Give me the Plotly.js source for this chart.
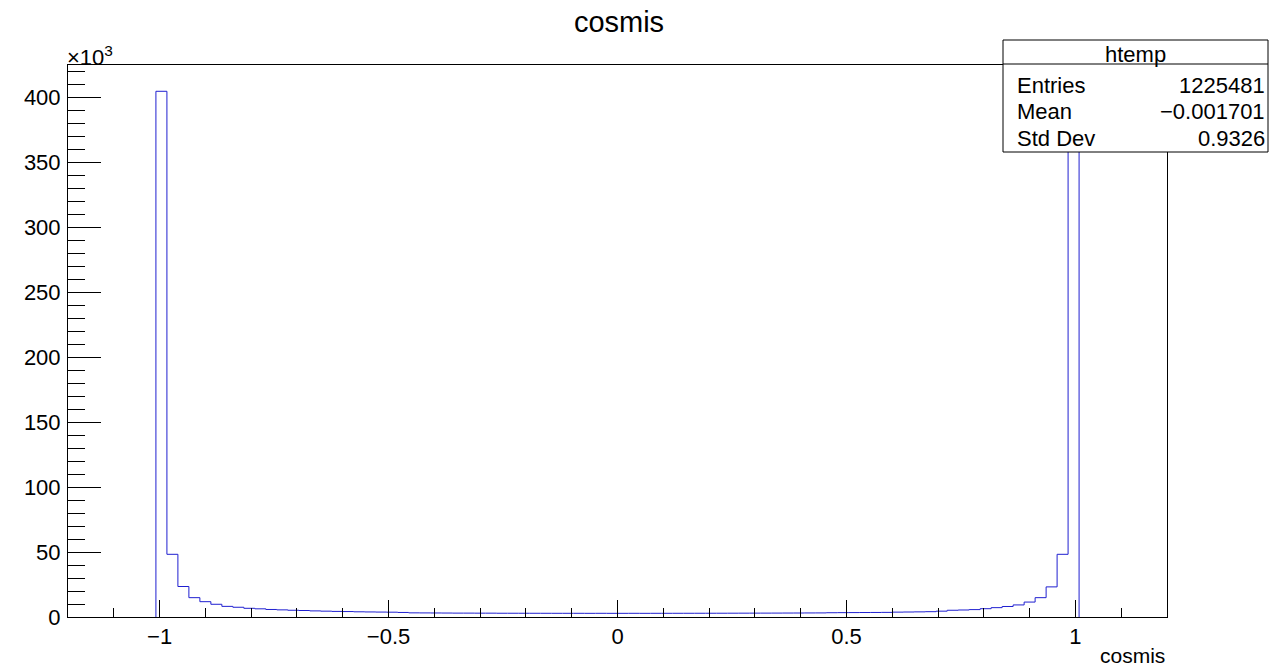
<!DOCTYPE html>
<html>
<head>
<meta charset="utf-8">
<script src="https://cdn.plot.ly/plotly-3.0.1.min.js"></script>
<style>
  html, body { margin: 0; padding: 0; background: #ffffff; }
  #chart { width: 1270px; height: 666px; }
</style>
</head>
<body>
<div id="chart"></div>
<script>
// Histogram definition (ROOT htemp): 100 bins from -1.2 to 1.2
const binLow = -1.2;
const binHigh = 1.2;
const nBins = 100;

// Bin contents, in thousands of entries
const countsK = [
  0, 0, 0, 0, 0, 0, 0, 0,
  405, 48.3, 23.5, 14.9, 11.8, 9.8, 8.2, 7.5, 6.7, 6.3,
  5.8, 5.5, 5.2, 5.0, 4.7, 4.5, 4.3, 4.2, 4.0, 3.9,
  3.8, 3.7, 3.5, 3.2, 3.15, 3.1, 3.05, 3.0, 3.0, 2.95,
  2.95, 2.9, 2.9, 2.88, 2.87, 2.86, 2.85, 2.84, 2.85, 2.83,
  2.84, 2.82, 2.83, 2.84, 2.82, 2.85, 2.84, 2.86, 2.87, 2.88,
  2.9, 2.91, 2.93, 2.95, 2.97, 3.0, 3.02, 3.05, 3.08, 3.12,
  3.15, 3.3, 3.35, 3.4, 3.45, 3.5, 3.55, 3.75, 3.85, 3.95,
  4.1, 4.5, 5.2, 5.4, 5.7, 6.4, 7.2, 8.1, 9.3, 11.5,
  14.9, 23.2, 48.3, 401,
  0, 0, 0, 0, 0, 0, 0, 0
];

// Statistics box
const statsTitle = "htemp";
const statsLabels = ["Entries", "Mean", "Std Dev"];
const statsValues = ["1225481", "\u22120.001701", "0.9326"];

const chartTitle = "cosmis";
const xAxisTitle = "cosmis";

// Build step outline from bin edges (empty outer bins lie on the axis)
const binWidth = (binHigh - binLow) / nBins;
let first = 0, last = nBins - 1;
while (first < nBins && countsK[first] === 0) first++;
while (last > 0 && countsK[last] === 0) last--;
const stepX = [];
const stepY = [];
stepX.push(binLow + first * binWidth); stepY.push(0);
for (let i = first; i <= last; i++) {
  stepX.push(binLow + i * binWidth);
  stepY.push(countsK[i]);
}
stepX.push(binLow + (last + 1) * binWidth); stepY.push(0);

const font = "Liberation Sans, Arial, Helvetica, sans-serif";

const trace = {
  type: "scatter",
  mode: "lines",
  x: stepX,
  y: stepY,
  line: { shape: "hv", color: "#1f1fd0", width: 1 },
  hoverinfo: "skip",
  showlegend: false
};

const maxK = Math.max(...countsK) * 1.05;

// pixel helpers for stats box (plot area: l=68, width 1099; t=65, height 552)
const L = 68, W = 1099, T = 65, H = 552;
const px = v => (v - L) / W;
const py = v => (T + H - v) / H;

const boxLeft = 1003, boxRight = 1268, boxTop = 40, boxBottom = 152, headSep = 64;
const rowsY = [85, 111, 138];

const annotations = [
  { text: "\u00d710<sup>3</sup>", xref: "paper", yref: "paper", x: px(65), y: py(56),
    xanchor: "left", yanchor: "middle", showarrow: false, font: { family: font, size: 22, color: "#000" } },
  { text: xAxisTitle, xref: "paper", yref: "paper", x: 1, y: py(655),
    xanchor: "right", yanchor: "middle", showarrow: false, font: { family: font, size: 21, color: "#000" } },
  { text: statsTitle, xref: "paper", yref: "paper", x: px((boxLeft + boxRight) / 2), y: py(54),
    xanchor: "center", yanchor: "middle", showarrow: false, font: { family: font, size: 22, color: "#000" } }
];
statsLabels.forEach((lab, i) => {
  annotations.push({ text: lab, xref: "paper", yref: "paper", x: px(1015), y: py(rowsY[i]),
    xanchor: "left", yanchor: "middle", showarrow: false, font: { family: font, size: 22, color: "#000" } });
  annotations.push({ text: statsValues[i], xref: "paper", yref: "paper", x: px(1267), y: py(rowsY[i]),
    xanchor: "right", yanchor: "middle", showarrow: false, font: { family: font, size: 22, color: "#000" } });
});

const layout = {
  width: 1270,
  height: 666,
  paper_bgcolor: "#ffffff",
  plot_bgcolor: "#ffffff",
  margin: { l: 68, r: 103, t: 65, b: 49, pad: 0 },
  title: { text: chartTitle, x: 619 / 1270, xanchor: "center", y: 1 - 22 / 666, yanchor: "middle",
           font: { family: font, size: 29, color: "#000" } },
  font: { family: font, size: 22, color: "#000" },
  xaxis: {
    range: [binLow, binHigh],
    showgrid: false, zeroline: false,
    showline: true, linecolor: "#000", linewidth: 1, mirror: true,
    ticks: "inside", ticklen: 17, tickwidth: 1, tickcolor: "#000",
    tick0: 0, dtick: 0.5,
    minor: { ticks: "inside", ticklen: 9, tickwidth: 1, tickcolor: "#000", tick0: 0, dtick: 0.1, showgrid: false },
    tickfont: { family: font, size: 22, color: "#000" },
    ticklabelstandoff: 0
  },
  yaxis: {
    range: [0, maxK],
    showgrid: false, zeroline: false,
    showline: true, linecolor: "#000", linewidth: 1, mirror: true,
    ticks: "inside", ticklen: 33, tickwidth: 1, tickcolor: "#000",
    tick0: 0, dtick: 50,
    minor: { ticks: "inside", ticklen: 17, tickwidth: 1, tickcolor: "#000", tick0: 0, dtick: 10, showgrid: false },
    tickfont: { family: font, size: 22, color: "#000" },
    ticklabelstandoff: 2
  },
  shapes: [
    { type: "rect", xref: "paper", yref: "paper", x0: px(boxLeft), x1: px(boxRight), y0: py(boxBottom), y1: py(boxTop),
      fillcolor: "#ffffff", line: { color: "#000", width: 1 }, layer: "above" },
    { type: "line", xref: "paper", yref: "paper", x0: px(boxLeft), x1: px(boxRight), y0: py(headSep), y1: py(headSep),
      line: { color: "#000", width: 1 }, layer: "above" }
  ],
  annotations: annotations
};

Plotly.newPlot("chart", [trace], layout, { displayModeBar: false, staticPlot: true });
</script>
</body>
</html>
